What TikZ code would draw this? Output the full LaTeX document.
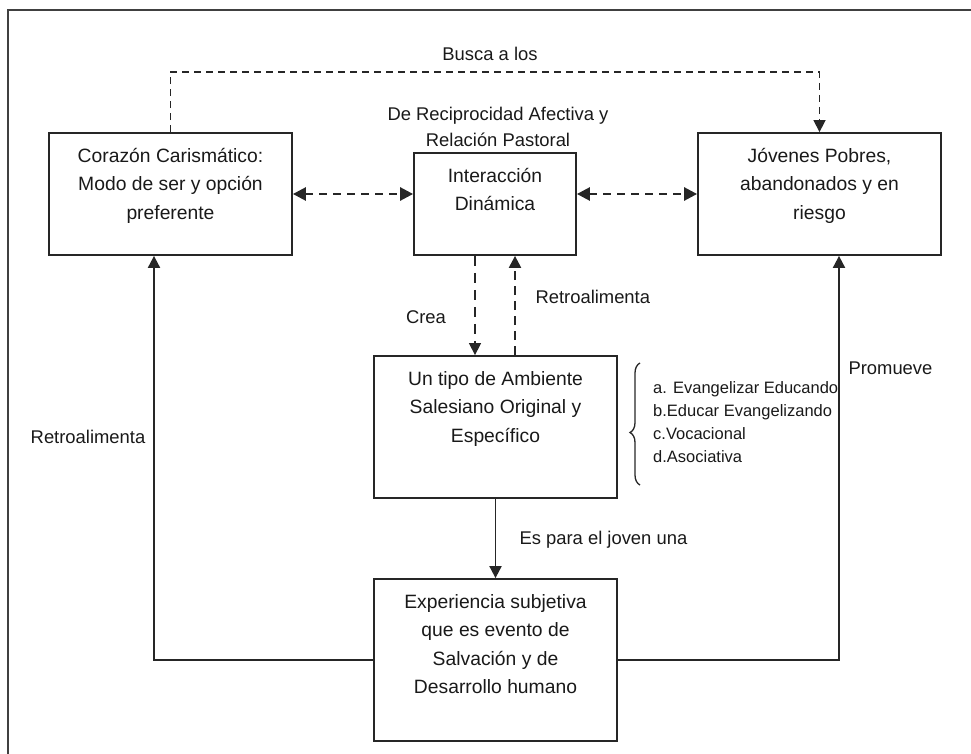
\documentclass[tikz,border=0pt]{standalone}
\usepackage{fontspec}
\setmainfont{Liberation Sans}
\usetikzlibrary{arrows.meta,decorations.pathreplacing}
\newcommand{\cajatexto}[3]{\parbox[c][#2][t]{#1}{\centering\rule{0pt}{29.5pt}#3}}

\begin{document}
\begin{tikzpicture}[
    x=1pt, y=-1pt,
    every node/.style={font=\fontsize{18.4}{26.5}\selectfont, text=black!90},
    caja/.style={draw=black!85, line width=1.8pt, inner sep=0pt, font=\fontsize{19.3}{28.3}\selectfont},
    rotulo/.style={align=center},
    lista/.style={font=\fontsize{16.5}{23}\selectfont, align=left, anchor=west, inner sep=0pt},
    punta/.style={-{Triangle[length=12pt,width=12pt]}},
    solida/.style={draw=black!85, line width=1.9pt},
    discontinua/.style={draw=black!85, line width=1.5pt, dash pattern=on 7pt off 5pt},
    discontinuafina/.style={draw=black!85, line width=1.4pt, dash pattern=on 10pt off 7pt},
    retorno/.style={draw=black!85, line width=2.2pt, dash pattern=on 9pt off 6pt},
    doble/.style={draw=black!85, line width=2.6pt, dash pattern=on 8pt off 6pt,
      {Triangle[length=13pt,width=13pt]}-{Triangle[length=13pt,width=13pt]}},
    marco/.style={draw=black!75, line width=1.8pt},
    llave/.style={draw=black!85, line width=1.3pt, decorate, decoration={brace, amplitude=10pt, aspect=0.43}}
]
\useasboundingbox (0,0) rectangle (971,754);
\draw[marco] (8,754) -- (8,10) -- (971,10);

\node[caja] (corazon) at (170.5,194) {\cajatexto{243pt}{122pt}{Corazón Carismático:\\Modo de ser y opción\\preferente}};
\node[caja] (interaccion) at (495,204) {\cajatexto{162pt}{102pt}{Interacción\\Dinámica}};
\node[caja] (jovenes) at (819.5,194) {\cajatexto{243pt}{122pt}{Jóvenes Pobres,\\abandonados y en\\riesgo}};
\node[caja] (ambiente) at (495.5,427) {\cajatexto{243pt}{142pt}{Un tipo de Ambiente\\Salesiano Original y\\Específico}};
\node[caja] (experiencia) at (495.5,660) {\cajatexto{243pt}{162pt}{Experiencia subjetiva\\que es evento de\\Salvación y de\\Desarrollo humano}};

\node (busca) at (490,54) {Busca a los};
\node[rotulo] (reciprocidad) at (498,127) {De Reciprocidad Afectiva y\\Relación Pastoral};
\node (crea) at (426,317) {Crea};
\node[anchor=west] (retrointer) at (532,297) {Retroalimenta};
\node (retroizq) at (88,437) {Retroalimenta};
\node[anchor=west] (promueve) at (845,368) {Promueve};
\node[anchor=west] (espara) at (516,540) {Es para el joven una};
\node[lista] (opciones) at (653,422) {a. Evangelizar Educando\\b.Educar Evangelizando\\c.Vocacional\\d.Asociativa};

\coordinate (buscaalto) at (0,72);
\draw[discontinua, punta] (corazon.north) -- (corazon.north |- buscaalto) -| (jovenes.north);
\draw[doble] (corazon.east) -- (interaccion.west |- corazon.east);
\draw[doble] (interaccion.east |- jovenes.west) -- (jovenes.west);
\draw[discontinuafina, punta] ([xshift=-20pt]interaccion.south) -- ([xshift=-20pt]interaccion.south |- ambiente.north);
\draw[retorno, punta] ([xshift=20pt]interaccion.south |- ambiente.north) -- ([xshift=20pt]interaccion.south);
\draw[solida, punta] (ambiente.south) -- (experiencia.north);
\draw[solida, punta] (experiencia.west) -| ([xshift=-16.5pt]corazon.south);
\draw[solida, punta] (experiencia.east) -| ([xshift=19.5pt]jovenes.south);
\draw[llave] (640,485) -- (640,363);

\end{tikzpicture}
\end{document}
